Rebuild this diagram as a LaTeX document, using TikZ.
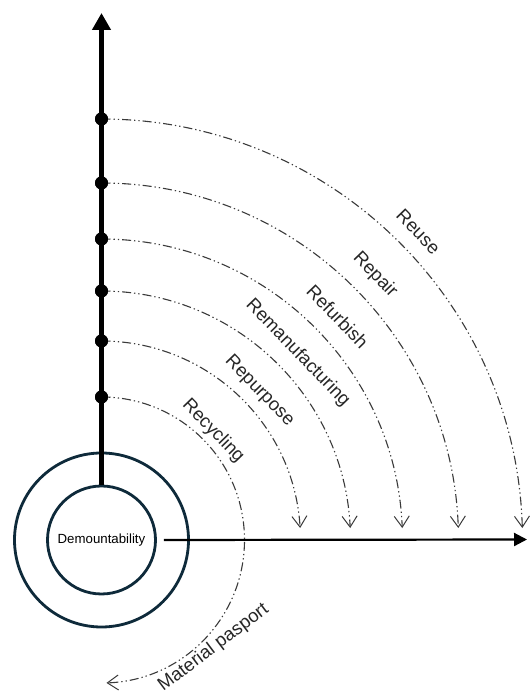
\documentclass[tikz,border=0pt]{standalone}
\usepackage{fontspec}
\setmainfont{Liberation Sans}
\usetikzlibrary{arrows.meta}
\definecolor{ringc}{HTML}{0E2A3A}
\definecolor{arcc}{HTML}{3A3A3A}
\begin{document}
\begin{tikzpicture}[x=1bp,y=1bp,
  ring/.style={draw=ringc,line width=2.8bp,circle,inner sep=0pt},
  flow/.style={draw=arcc,line width=1.1bp,
    dash pattern=on 9bp off 3bp on 1.3bp off 3bp on 1.3bp off 3bp,
    -{Straight Barb[length=11bp,width=15bp,line width=1bp]}},
  dotm/.style={circle,fill=black,inner sep=0pt,minimum size=13bp},
  lbl/.style={font=\fontsize{18.6}{20}\selectfont,text=black!85,inner sep=0pt,rotate=-46}
]
\useasboundingbox (0,0) rectangle (532,693);
\coordinate (C) at (101.5,153);
\node[ring,minimum size=174bp] (outer) at (C) {};
\node[ring,minimum size=108bp,font=\fontsize{13.3}{15}\selectfont] (inner) at (C) {Demountability};

% axes
\coordinate (ytip) at (101.5,680);
\draw[line width=5bp,-{Triangle[length=17bp,width=18bp]}] (inner.north) -- (ytip);
\coordinate (xtip) at (527,153.5);
\draw[line width=2.2bp,-{Triangle[length=13bp,width=13bp]}] ([xshift=7bp]inner.east) -- (xtip);

% dots
\node[dotm] (d1) at (101.5,574) {};
\node[dotm] (d2) at (101.5,510) {};
\node[dotm] (d3) at (101.5,454) {};
\node[dotm] (d4) at (101.5,402) {};
\node[dotm] (d5) at (101.5,352) {};
\node[dotm] (d6) at (101.5,296) {};

% arcs
\draw[flow] (d1.center) arc[start angle=90,end angle=1.63,radius=421];
\draw[flow] (d2.center) arc[start angle=90,end angle=1.93,radius=357];
\draw[flow] (d3.center) arc[start angle=90,end angle=2.28,radius=301];
\draw[flow] (d4.center) arc[start angle=90,end angle=2.76,radius=249];
\draw[flow] (d5.center) arc[start angle=90,end angle=3.46,radius=199];
\draw[flow] (d6.center) arc[start angle=90,end angle=-88,radius=143];

% redraw dots on top
\foreach \n in {d1,d2,d3,d4,d5,d6} \fill (\n) circle[radius=6.5bp];

% labels
\node[lbl] (lreuse) at ([shift={(44.2:442)}]C) {Reuse};
\node[lbl] (lrepair) at ([shift={(44.1:381)}]C) {Repair};
\node[lbl] (lrefurb) at ([shift={(43.4:325)}]C) {Refurbish};
\node[lbl] (lreman) at ([shift={(43.6:271)}]C) {Remanufacturing};
\node[lbl] (lrepurp) at ([shift={(43.3:217)}]C) {Repurpose};
\node[lbl] (lrecyc) at ([shift={(44.3:156)}]C) {Recycling};
\node[font=\fontsize{18.6}{20}\selectfont,text=black!85,inner sep=0pt,rotate=37,anchor=base] (lmat) at (216.5,41.3) {Material pasport};
\end{tikzpicture}
\end{document}
